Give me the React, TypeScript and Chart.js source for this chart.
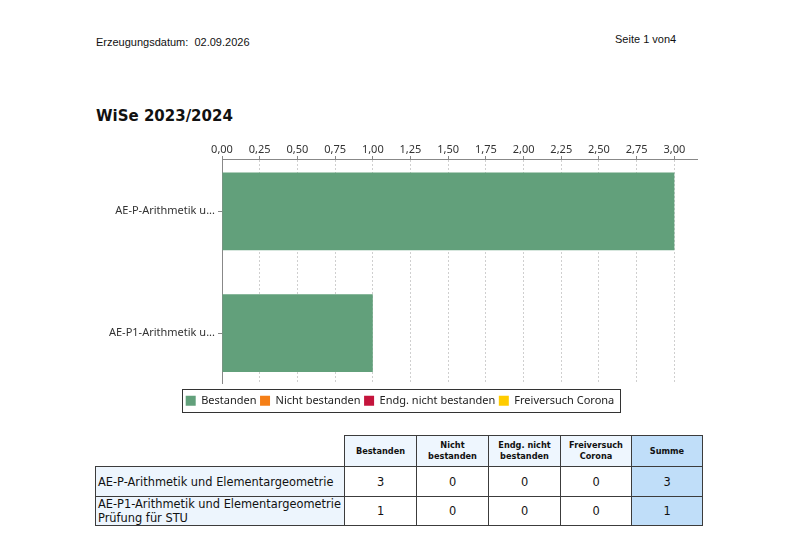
import React, { useEffect, useRef } from "react";
import { Chart, registerables } from "chart.js";

Chart.register(...registerables);

// ---- texts ----
const headerDateLabel = "Erzeugungsdatum:";
const headerDate = "02.09.2026";
const pageLabel = "Seite 1 von4";
const chartTitle = "WiSe 2023/2024";
const sumLabel = "Summe";

// ---- data ----
const categories = [
  "AE-P-Arithmetik und Elementargeometrie",
  "AE-P1-Arithmetik und Elementargeometrie Prüfung für STU",
];
const axisLabels = ["AE-P-Arithmetik u...", "AE-P1-Arithmetik u..."];
const seriesNames = ["Bestanden", "Nicht bestanden", "Endg. nicht bestanden", "Freiversuch Corona"];
const bestanden = [3, 1];
const nichtBestanden = [0, 0];
const endgNichtBestanden = [0, 0];
const freiversuchCorona = [0, 0];
const seriesColors = ["#62A07B", "#F57F17", "#C4143C", "#FFCC00"];
const xTickStep = 0.25;
const xMax = 3.15;

const seriesValues = [bestanden, nichtBestanden, endgNichtBestanden, freiversuchCorona];

const chartFont = "'Noto Sans', 'Open Sans', sans-serif";

const legendFramePlugin = {
  id: "legendFrame",
  afterDraw(chart: any) {
    const lg = chart.legend;
    if (!lg || !lg.legendHitBoxes || !lg.legendHitBoxes.length) return;
    const hb = lg.legendHitBoxes;
    const left = Math.min(...hb.map((h: any) => h.left)) - 4;
    const right = Math.max(...hb.map((h: any) => h.left + h.width)) + 5;
    const top = hb[0].top - 6;
    const bottom = hb[0].top + hb[0].height + 6;
    const ctx = chart.ctx;
    ctx.save();
    ctx.strokeStyle = "#333";
    ctx.lineWidth = 1;
    ctx.strokeRect(Math.round(left) + 0.5, Math.round(top) + 0.5, Math.round(right - left), Math.round(bottom - top));
    ctx.restore();
  },
};

function fmt(v: number) {
  return Number(v).toFixed(2).replace(".", ",");
}

export default function App() {
  const ref = useRef<HTMLCanvasElement | null>(null);

  useEffect(() => {
    if (!ref.current) return;
    const datasets = seriesNames.map((name, k) => ({
      label: name,
      data: seriesValues[k].map((v, i) => ({ x: v, y: i })),
      backgroundColor: seriesColors[k],
      borderWidth: 0,
      barPercentage: 0.8,
      categoryPercentage: 0.8,
    }));
    const chart = new Chart(ref.current, {
      type: "bar",
      data: { datasets } as any,
      plugins: [legendFramePlugin],
      options: {
        indexAxis: "y",
        animation: false,
        responsive: false,
        layout: { padding: { top: 0, left: 0, right: 0, bottom: 3.8 } },
        scales: {
          x: {
            type: "linear",
            position: "top",
            stacked: true,
            offset: false,
            min: 0,
            max: xMax,
            afterFit: (s: any) => {
              s.height = 29;
            },
            grid: { offset: false, color: "#cfcfcf", lineWidth: 1, drawTicks: true, tickLength: 3, tickColor: "#888" },
            border: { display: true, color: "#888", width: 1, dash: [2, 2] },
            ticks: {
              stepSize: xTickStep,
              includeBounds: false,
              autoSkip: false,
              maxRotation: 0,
              padding: 0,
              color: "#333",
              font: { family: chartFont, size: 11 },
              callback: (v: any) => fmt(v),
            },
          },
          y: {
            type: "linear",
            position: "left",
            reverse: true,
            stacked: true,
            offset: false,
            min: -0.43,
            max: 1.41,
            afterBuildTicks: (s: any) => {
              s.ticks = categories.map((_, i) => ({ value: i }));
            },
            afterFit: (s: any) => {
              s.width = 222;
            },
            grid: { offset: false, drawOnChartArea: false, drawTicks: true, tickLength: 4, tickColor: "#888" },
            border: { display: true, color: "#888", width: 1 },
            ticks: {
              autoSkip: false,
              padding: 3,
              color: "#333",
              font: { family: chartFont, size: 11 },
              callback: (v: any) => axisLabels[v] ?? "",
            },
          },
          yRight: {
            type: "linear",
            position: "right",
            display: true,
            offset: false,
            grid: { display: false, drawTicks: false },
            border: { display: false },
            ticks: { display: false },
            afterFit: (s: any) => {
              s.width = 103;
            },
          },
        },
        plugins: {
          tooltip: { enabled: false },
          legend: {
            display: true,
            position: "bottom",
            align: "center",
            title: { display: true, text: "", padding: { top: 7.5, bottom: 0 }, font: { size: 1 } },
            labels: {
              boxWidth: 10,
              boxHeight: 10,
              padding: 3.5,
              color: "#222",
              font: { family: chartFont, size: 11 },
            },
          },
        },
      } as any,
    });
    return () => chart.destroy();
  }, []);

  const border = "1px solid #3c3c3c";
  const headBg = "#EEF6FE";
  const sumBg = "#C0DEF9";
  const labelBg = "#EDF5FD";
  const headCell: React.CSSProperties = {
    border,
    background: headBg,
    fontWeight: "bold",
    fontSize: 8.2,
    lineHeight: "11px",
    textAlign: "center",
    verticalAlign: "middle",
    padding: "0 2px",
  };
  const labelCell: React.CSSProperties = {
    border,
    background: labelBg,
    textAlign: "left",
    verticalAlign: "middle",
    padding: "0 0 0 2px",
    lineHeight: "14px",
  };
  const valCell: React.CSSProperties = {
    border,
    background: "#fff",
    textAlign: "center",
    verticalAlign: "middle",
    padding: 0,
  };

  return (
    <div
      style={{
        position: "absolute",
        left: 0,
        top: 0,
        width: 800,
        height: 538,
        background: "#fff",
        overflow: "hidden",
        fontFamily: "'Liberation Sans', Arial, sans-serif",
        color: "#111",
      }}
    >
      <div style={{ position: "absolute", left: 96, top: 37, fontSize: 11, lineHeight: "11px", whiteSpace: "pre" }}>
        {`${headerDateLabel}  ${headerDate}`}
      </div>
      <div style={{ position: "absolute", left: 615, top: 34, fontSize: 11, lineHeight: "11px", whiteSpace: "pre" }}>
        {pageLabel}
      </div>
      <div
        style={{
          position: "absolute",
          left: 96,
          top: 109,
          fontFamily: "'DejaVu Sans', sans-serif",
          fontWeight: "bold",
          fontSize: 15,
          lineHeight: "15px",
          whiteSpace: "pre",
        }}
      >
        {chartTitle}
      </div>
      <canvas
        ref={ref}
        width={800}
        height={290}
        style={{ position: "absolute", left: 0, top: 130, width: 800, height: 290, display: "block" }}
      />
      <table
        style={{
          position: "absolute",
          left: 95,
          top: 435,
          borderCollapse: "collapse",
          tableLayout: "fixed",
          width: 607,
          fontFamily: "'DejaVu Sans', sans-serif",
          fontSize: 11.4,
          color: "#111",
        }}
      >
        <colgroup>
          <col style={{ width: 249 }} />
          <col style={{ width: 72 }} />
          <col style={{ width: 72 }} />
          <col style={{ width: 72 }} />
          <col style={{ width: 71 }} />
          <col style={{ width: 71 }} />
        </colgroup>
        <thead>
          <tr style={{ height: 31 }}>
            <th style={{ border: "none", background: "transparent", padding: 0 }}></th>
            {seriesNames.map((n) => (
              <th key={n} style={headCell}>
                {n}
              </th>
            ))}
            <th style={{ ...headCell, background: sumBg }}>{sumLabel}</th>
          </tr>
        </thead>
        <tbody>
          {categories.map((c, i) => (
            <tr key={c} style={{ height: i === 0 ? 30 : 29 }}>
              <td style={labelCell}>{c}</td>
              {seriesValues.map((arr, k) => (
                <td key={k} style={valCell}>
                  {arr[i]}
                </td>
              ))}
              <td style={{ ...valCell, background: sumBg }}>
                {seriesValues.reduce((s, arr) => s + arr[i], 0)}
              </td>
            </tr>
          ))}
        </tbody>
      </table>
    </div>
  );
}
